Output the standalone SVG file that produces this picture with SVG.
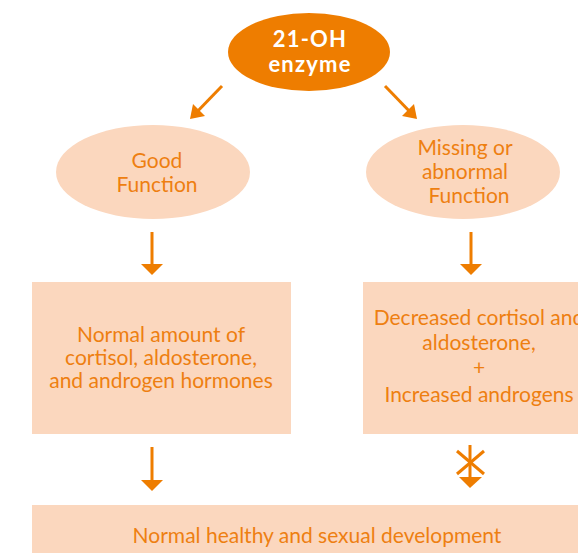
<svg xmlns="http://www.w3.org/2000/svg" width="578" height="553" viewBox="0 0 578 553">
<defs>
<style>
.lt{fill:#FBD7BE;}
.t{font-family:Lato,"Open Sans","Liberation Sans",sans-serif;font-size:21px;fill:#EE7F11;text-anchor:middle;}
.w{font-family:Lato,"Open Sans","Liberation Sans",sans-serif;font-size:22px;font-weight:bold;fill:#FFFFFF;text-anchor:middle;letter-spacing:1.2px;}
.c{stroke:#EE7D00;stroke-width:3;fill:none;}
.h{fill:#EE7D00;}
</style>
</defs>
<rect width="578" height="553" fill="#FFFFFF"/>
<g id="enzyme">
<ellipse cx="309" cy="52" rx="81" ry="39" fill="#EE7D00"/>
<text class="w" x="310" y="47">21-OH</text>
<text class="w" x="310" y="72">enzyme</text>
</g>
<g id="good">
<ellipse class="lt" cx="153" cy="172" rx="97" ry="47"/>
<text class="t" x="157" y="168">Good</text>
<text class="t" x="157" y="192">Function</text>
</g>
<g id="missing">
<ellipse class="lt" cx="463" cy="172" rx="97" ry="47"/>
<text class="t" x="465" y="155">Missing or</text>
<text class="t" x="465" y="179">abnormal</text>
<text class="t" x="469" y="203">Function</text>
</g>
<g id="normal-amount">
<rect class="lt" x="32" y="282" width="259" height="152"/>
<text class="t" x="161" y="342">Normal amount of</text>
<text class="t" x="161" y="365">cortisol, aldosterone,</text>
<text class="t" x="161" y="388">and androgen hormones</text>
</g>
<g id="decreased">
<rect class="lt" x="363" y="282" width="232" height="152"/>
<text class="t" x="479" y="325">Decreased cortisol and</text>
<text class="t" x="479" y="350">aldosterone,</text>
<text class="t" x="479" y="375">+</text>
<text class="t" x="479" y="402">Increased androgens</text>
</g>
<g id="development">
<rect class="lt" x="32" y="505" width="560" height="60"/>
<text class="t" x="317" y="543">Normal healthy and sexual development</text>
</g>
<g id="connectors">
<line class="c" x1="222" y1="86" x2="192" y2="117"/>
<path class="h" d="M190,119 L193,104 L205,116 Z"/>
<line class="c" x1="385" y1="86" x2="415" y2="117"/>
<path class="h" d="M417,119 L414,104 L402,116 Z"/>
<line class="c" x1="152" y1="232" x2="152" y2="266"/>
<path class="h" d="M141,264 L163,264 L152,275 Z"/>
<line class="c" x1="471" y1="232" x2="471" y2="266"/>
<path class="h" d="M460,264 L482,264 L471,275 Z"/>
<line class="c" x1="152" y1="447" x2="152" y2="481"/>
<path class="h" d="M141,480 L163,480 L152,491 Z"/>
<line class="c" x1="470" y1="445" x2="470" y2="479"/>
<path class="h" d="M459,477 L482,477 L470,488 Z"/>
<line class="c" x1="457" y1="451" x2="484" y2="474"/>
<line class="c" x1="484" y1="451" x2="457" y2="474"/>
</g>
</svg>
